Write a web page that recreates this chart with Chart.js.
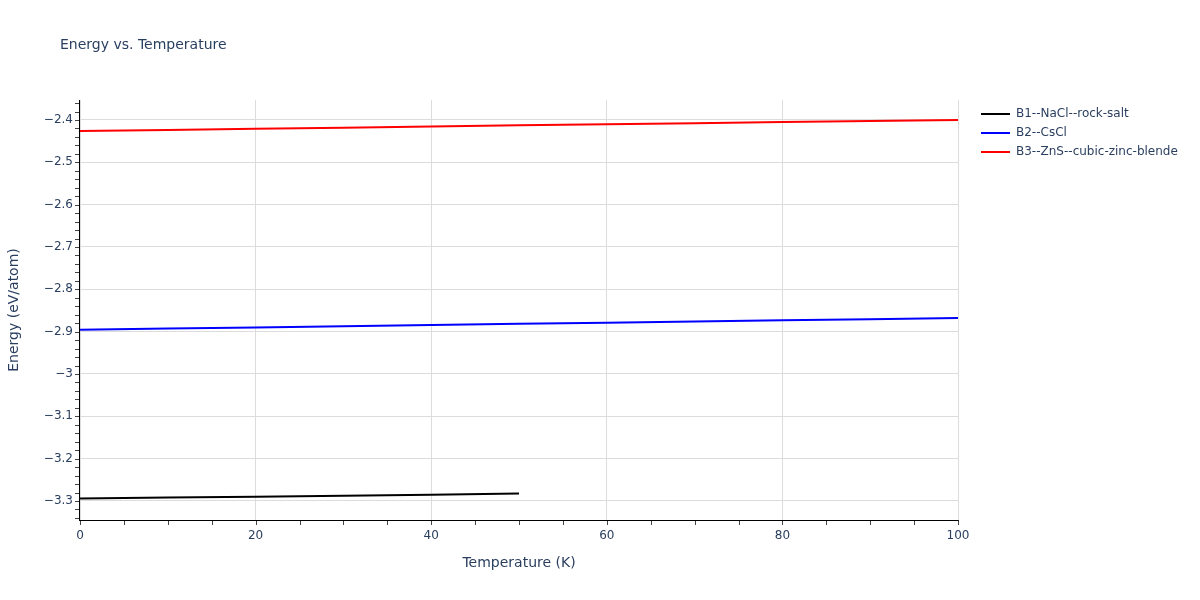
<!DOCTYPE html>
<html>
<head>
<meta charset="utf-8">
<script src="https://cdn.jsdelivr.net/npm/chart.js@4/dist/chart.umd.min.js"></script>
<style>
html,body{margin:0;padding:0;background:#fff;}
#wrap{width:1200px;height:600px;position:relative;}
</style>
</head>
<body>
<div id="wrap"><canvas id="c" width="1200" height="600"></canvas></div>
<script>
const titleText = 'Energy vs. Temperature';
const xTitle = 'Temperature (K)';
const yTitle = 'Energy (eV/atom)';
const seriesNames = ['B1--NaCl--rock-salt', 'B2--CsCl', 'B3--ZnS--cubic-zinc-blende'];
const seriesColors = ['#000000', '#0000ff', '#ff0000'];
const tempB1 = [0, 10, 20, 30, 40, 50];
const energyB1 = [-3.2942, -3.2920, -3.2898, -3.2875, -3.2850, -3.2825];
const tempB2 = [0, 10, 20, 30, 40, 50, 60, 70, 80, 90, 100];
const energyB2 = [-2.8953, -2.8928, -2.8900, -2.8870, -2.8840, -2.8815, -2.8787, -2.8760, -2.8733, -2.8706, -2.8679];
const tempB3 = [0, 10, 20, 30, 40, 50, 60, 70, 80, 90, 100];
const energyB3 = [-2.4260, -2.4236, -2.4210, -2.4182, -2.4153, -2.4127, -2.4100, -2.4075, -2.4050, -2.4025, -2.4000];
const xTickValues = [0, 20, 40, 60, 80, 100];
const yTickValues = [-3.3, -3.2, -3.1, -3.0, -2.9, -2.8, -2.7, -2.6, -2.5, -2.4];
const yTickLabels = ['\u22123.3', '\u22123.2', '\u22123.1', '\u22123', '\u22122.9', '\u22122.8', '\u22122.7', '\u22122.6', '\u22122.5', '\u22122.4'];

const FONT = '"DejaVu Sans", Verdana, sans-serif';
const TXT = '#2a3f5f';

const temps = [tempB1, tempB2, tempB3];
const energies = [energyB1, energyB2, energyB3];
const datasets = seriesNames.map((n, i) => ({
  label: n,
  data: temps[i].map((t, j) => ({x: t, y: energies[i][j]})),
  borderColor: seriesColors[i],
  backgroundColor: seriesColors[i],
  borderWidth: 2,
  pointRadius: 0,
  tension: 0,
  fill: false
}));

const overlay = {
  id: 'overlay',
  afterDraw(chart) {
    const ctx = chart.ctx;
    const xs = chart.scales.x, ys = chart.scales.y;
    const area = chart.chartArea;
    ctx.save();
    ctx.strokeStyle = '#444';
    ctx.lineWidth = 1;
    for (let v = 0; v <= 100.0001; v += 5) {
      const px = Math.round(xs.getPixelForValue(v)) + 0.5;
      ctx.beginPath(); ctx.moveTo(px, area.bottom); ctx.lineTo(px, area.bottom + 5); ctx.stroke();
    }
    for (let k = -167; k <= -118; k++) {
      const v = k * 0.02;
      const py = Math.round(ys.getPixelForValue(v)) + 0.5;
      if (py < area.top || py > area.bottom) continue;
      ctx.beginPath(); ctx.moveTo(area.left - 5, py); ctx.lineTo(area.left, py); ctx.stroke();
    }
    ctx.strokeStyle = '#000';
    ctx.beginPath(); ctx.moveTo(area.left, area.bottom + 0.5); ctx.lineTo(area.right + 0.5, area.bottom + 0.5); ctx.stroke();
    ctx.beginPath(); ctx.moveTo(area.left - 0.5, area.top); ctx.lineTo(area.left - 0.5, area.bottom + 1); ctx.stroke();
    ctx.fillStyle = TXT;
    ctx.font = '12px ' + FONT;
    ctx.textAlign = 'center'; ctx.textBaseline = 'middle';
    xTickValues.forEach(v => ctx.fillText(String(v), xs.getPixelForValue(v), area.bottom + 16));
    ctx.textAlign = 'right';
    yTickValues.forEach((v, i) => ctx.fillText(yTickLabels[i], area.left - 7, ys.getPixelForValue(v)));
    ctx.font = '14px ' + FONT;
    ctx.textAlign = 'left'; ctx.textBaseline = 'middle';
    ctx.fillText(titleText, 60, 45);
    ctx.font = '14px ' + FONT;
    ctx.textAlign = 'center';
    ctx.fillText(xTitle, (area.left + area.right) / 2, 563);
    ctx.save();
    ctx.translate(14, (area.top + area.bottom) / 2);
    ctx.rotate(-Math.PI / 2);
    ctx.fillText(yTitle, 0, 0);
    ctx.restore();
    ctx.font = '12px ' + FONT;
    ctx.textAlign = 'left';
    seriesNames.forEach((n, i) => {
      const y = 114 + i * 19;
      ctx.strokeStyle = seriesColors[i];
      ctx.lineWidth = 2;
      ctx.beginPath(); ctx.moveTo(981, y); ctx.lineTo(1010, y); ctx.stroke();
      ctx.fillStyle = TXT;
      ctx.fillText(n, 1016, y);
    });
    ctx.restore();
  }
};

new Chart(document.getElementById('c'), {
  type: 'line',
  data: { datasets },
  options: {
    responsive: false,
    animation: false,
    layout: { padding: { top: 100, right: 242, left: 0, bottom: 0 } },
    plugins: { legend: { display: false }, title: { display: false }, tooltip: { enabled: false } },
    scales: {
      x: {
        type: 'linear', min: 0, max: 100,
        afterBuildTicks: s => { s.ticks = xTickValues.map(v => ({value: v})); },
        afterFit: s => { s.height = 80; },
        ticks: { display: false },
        grid: { color: '#dcdcdc', lineWidth: 1, drawTicks: false },
        border: { display: false }
      },
      y: {
        type: 'linear', min: -3.3449, max: -2.3528,
        afterBuildTicks: s => { s.ticks = yTickValues.map(v => ({value: v})); },
        afterFit: s => { s.width = 80; },
        ticks: { display: false },
        grid: { color: '#dcdcdc', lineWidth: 1, drawTicks: false },
        border: { display: false }
      }
    }
  },
  plugins: [overlay]
});
</script>
</body>
</html>
